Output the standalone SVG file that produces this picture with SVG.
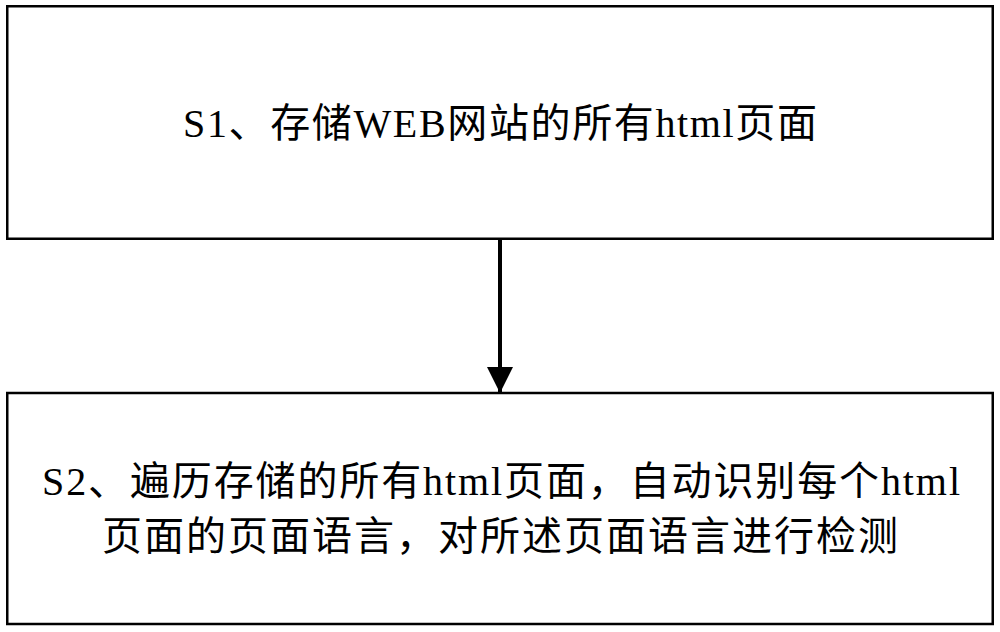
<svg xmlns="http://www.w3.org/2000/svg" width="1000" height="632" viewBox="0 0 1000 632">
  <style>
    .box { fill: #ffffff; stroke: #000000; stroke-width: 2.5; }
    .lbl { font-family: "Liberation Serif", "Noto Sans CJK SC", serif; font-size: 40px; fill: #000000; }
    .conn { stroke: #000000; stroke-width: 4; fill: none; }
  </style>
  <defs>
    <marker id="arrow" markerUnits="userSpaceOnUse" markerWidth="26" markerHeight="26" viewBox="0 0 26 26" refX="26" refY="13" orient="auto">
      <path d="M0,0 L26,13 L0,26 z" fill="#000000"/>
    </marker>
  </defs>
  <rect x="0" y="0" width="1000" height="632" fill="#ffffff"/>
  <g id="connectors">
    <line class="conn" x1="500" y1="240" x2="500" y2="393" marker-end="url(#arrow)"/>
  </g>
  <g id="s1">
    <rect class="box" x="7.25" y="6.25" width="985.5" height="232.5"/>
    <text class="lbl" x="183" y="137" textLength="634" lengthAdjust="spacing">S1、存储WEB网站的所有html页面</text>
  </g>
  <g id="s2">
    <rect class="box" x="7.25" y="393" width="985.5" height="231"/>
    <text class="lbl" x="42" y="495" textLength="918" lengthAdjust="spacing">S2、遍历存储的所有html页面，自动识别每个html</text>
    <text class="lbl" x="102" y="550" textLength="796" lengthAdjust="spacing">页面的页面语言，对所述页面语言进行检测</text>
  </g>
</svg>
